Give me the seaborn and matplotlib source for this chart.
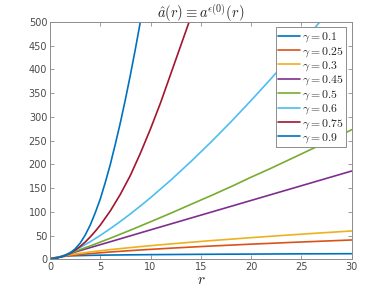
import matplotlib
matplotlib.use("Agg")
import matplotlib.pyplot as plt
import seaborn as sns
import pandas as pd

# values
gammas = ["0.1", "0.25", "0.3", "0.45", "0.5", "0.6", "0.75", "0.9"]
colors = ["#0072bd", "#d95319", "#edb120", "#7e2f8e",
          "#77ac30", "#4dbeee", "#a2142f", "#0072bd"]

r_g01 = [0, 0.5, 1, 2, 4, 6, 8, 10, 15, 20, 25, 30]
a_g01 = [1, 3.5, 5.5, 7.3, 8.3, 9.0, 9.4, 9.8, 10.5, 11.0, 11.5, 11.8]

r_g025 = [0, 0.5, 1, 2, 4, 6, 8, 10, 12, 14, 16, 18, 20, 22, 24, 26, 28, 30]
a_g025 = [1, 3, 5.0, 7.9, 12.0, 15.4, 18.3, 20.9, 23.4, 25.7, 27.9, 29.9, 31.9,
          33.7, 35.6, 37.3, 39.0, 40.7]

r_g03 = [0, 0.5, 1, 2, 4, 6, 8, 10, 12, 14, 16, 18, 20, 22, 24, 26, 28, 30]
a_g03 = [1, 3, 5.0, 9.8, 15.5, 20.4, 24.7, 28.7, 32.4, 35.9, 39.3, 42.4, 45.6,
         48.6, 51.5, 54.3, 57.0, 59.7]

r_g045 = [0, 0.5, 1, 2, 4, 6, 8, 10, 15, 20, 25, 30]
a_g045 = [1, 2.5, 5.0, 12.2, 24.6, 37.0, 49.5, 62.0, 93.0, 124, 155, 186]

r_g05 = [0, 0.5, 1, 2, 4, 6, 8, 10, 12, 14, 16, 18, 20, 22, 24, 26, 28, 30]
a_g05 = [1, 2.5, 5.0, 12.9, 28.1, 44.4, 61.4, 79.1, 97, 115.6, 134, 153, 173,
         192, 212, 232, 252, 273]

r_g06 = [0, 0.5, 1, 1.5, 2, 3, 4, 5, 6, 7, 8, 9, 10, 12, 14, 16, 18, 20, 22,
         24, 26, 28]
a_g06 = [1, 2.2, 4.8, 9, 14.4, 25.1, 37, 50.3, 64.6, 79.8, 95.7, 112.5, 129.8,
         166.6, 205.7, 246.7, 289.7, 334.7, 381, 429, 479, 530]

r_g075 = [0, 0.5, 1, 1.5, 2, 2.5, 3, 3.5, 4, 4.5, 5, 6, 7, 8, 9, 10, 11, 12,
          13, 14, 15]
a_g075 = [1, 2, 4.5, 7.8, 12.8, 19.3, 27, 36.3, 47, 59, 72, 102, 137, 177,
          224, 275, 330, 390, 450, 510, 575]

r_g09 = [0, 0.5, 1, 1.5, 2, 2.5, 3, 3.5, 4, 4.5, 5, 5.5, 6, 6.5, 7, 7.5, 8,
         8.5, 9, 9.5]
a_g09 = [1, 2, 4.5, 8, 13, 22, 34, 51, 72, 98, 127, 162, 200, 243, 288, 337,
         389, 444, 502, 562]

series_r = [r_g01, r_g025, r_g03, r_g045, r_g05, r_g06, r_g075, r_g09]
series_a = [a_g01, a_g025, a_g03, a_g045, a_g05, a_g06, a_g075, a_g09]

rows = []
for g, rs, avals in zip(gammas, series_r, series_a):
    lab = r"$\gamma = %s$" % g
    for rv, av in zip(rs, avals):
        rows.append({"r": rv, "a": av, "label": lab})
df = pd.DataFrame(rows)
labels = [r"$\gamma = %s$" % g for g in gammas]
palette = dict(zip(labels, colors))

sns.set_style("ticks")
plt.rcParams["mathtext.fontset"] = "cm"
plt.rcParams["font.family"] = ["DejaVu Sans"]

fig = plt.figure(figsize=(3.89, 2.92), dpi=100)
ax = fig.add_axes([0.1285, 0.112, 0.7755, 0.8127])

sns.lineplot(data=df, x="r", y="a", hue="label", hue_order=labels,
             palette=palette, estimator=None, sort=False, linewidth=1.2, ax=ax)

ax.set_xlim(0, 30)
ax.set_ylim(0, 500)
ax.set_xticks([0, 5, 10, 15, 20, 25, 30])
ax.set_yticks(range(0, 501, 50))
grey = "#8c8c8c"
for s in ax.spines.values():
    s.set_visible(True)
    s.set_color(grey)
    s.set_linewidth(0.7)
ax.tick_params(direction="in", length=3, width=0.6, color=grey,
               labelsize=7, labelcolor="#4a4a4a", top=True, right=True, pad=2)
ax.set_xlabel(r"$r$", fontsize=11, labelpad=0)
ax.set_ylabel("")
ax.set_title(r"$\hat{a}(r) \equiv a^{\epsilon(0)}(r)$", fontsize=10.5, pad=3)

leg = ax.legend(loc="upper right", fontsize=8.5, frameon=True, fancybox=False,
                edgecolor=grey, framealpha=1, borderpad=0.2, labelspacing=0.0,
                handlelength=1.85, handletextpad=0.2, borderaxespad=0.45)
leg.get_frame().set_linewidth(0.7)

fig.savefig("out.png", dpi=100)
